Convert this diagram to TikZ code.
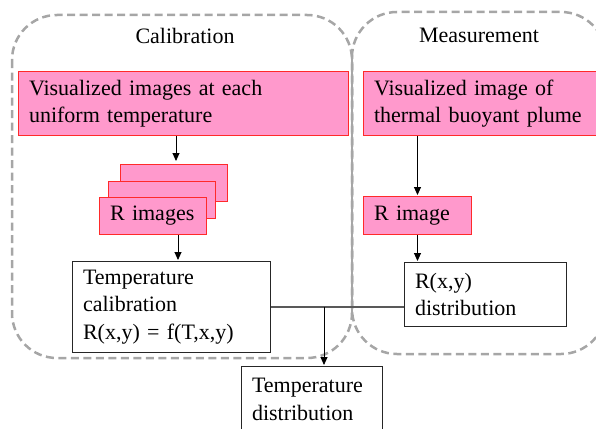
\documentclass[tikz,border=0pt]{standalone}
\usepackage{fontspec}
\setmainfont{Liberation Serif}
\usetikzlibrary{arrows.meta,calc}
\definecolor{pinkfill}{HTML}{FF99CC}
\definecolor{pinkline}{HTML}{FF2A2A}
\definecolor{dashgray}{HTML}{A6A6A6}
\definecolor{linkgray}{HTML}{595959}
\begin{document}
\begin{tikzpicture}[x=1pt,y=-1pt,
  every node/.style={font=\fontsize{22}{27.5}\selectfont, inner sep=0pt},
  base/.style={rectangle, anchor=north west, align=left, inner xsep=10.5pt, inner ysep=0pt, line width=1pt},
  pinkbox/.style={base, draw=pinkline, fill=pinkfill},
  whitebox/.style={base, draw=black!85, fill=white},
  group/.style={draw=dashgray, line width=2.5pt, dash pattern=on 8pt off 4.5pt, rounded corners=45pt},
  arr/.style={-{Triangle[length=8pt,width=7pt]}, line width=0.9pt, black},
  link/.style={line width=1.4pt, draw=linkgray},
]
\useasboundingbox (0,0) rectangle (596,428);

% groups
\draw[group] (12,15) rectangle (352,358);
\draw[group, dash phase=6pt] (352,12) rectangle (606,354);
% where the two dashed edges overlap they read as one solid line
\draw[draw=dashgray, line width=2.5pt] (352,57) -- (352,312);
\node (caltitle) at (185,35.5) {Calibration};
\node (meastitle) at (479,35.5) {Measurement};

% calibration column
\node[pinkbox, text width=309pt, minimum height=64pt] (pinkA) at (18,71) {Visualized images at each\\uniform temperature};
\node[pinkbox, minimum width=107pt, minimum height=37pt] (stackback) at (120,164) {};
\node[pinkbox, minimum width=107pt, minimum height=37pt] (stackmid) at (108,181) {};
\node[pinkbox, text width=86pt, minimum height=37pt] (Rimgs) at (99,197) {R images};
\node[whitebox, text width=177pt, minimum height=91pt] (tempcal) at (72,261) {Temperature\\calibration\\R(x,y) = f(T,x,y)};

% measurement column
\node[pinkbox, text width=212pt, minimum height=64pt] (pinkB) at (363,71) {Visualized image of\\thermal buoyant plume};
\node[pinkbox, text width=87pt, minimum height=38pt] (Rimage) at (363,196) {R image};
\node[whitebox, text width=141pt, minimum height=64pt] (Rdist) at (404,262) {R(x,y)\\distribution};

% result
\node[whitebox, text width=120pt, minimum height=66pt] (Tdist) at (241,366) {Temperature\\distribution};

% connectors
\coordinate (a1) at (176,0);
\coordinate (a2) at (178,0);
\draw[arr, shorten >=3pt] (pinkA.south -| a1) -- (stackback.north -| a1);
\draw[arr, shorten >=1pt] (Rimgs.south -| a2) -- (tempcal.north -| a2);
\draw[arr, shorten >=1pt] (pinkB.south -| Rimage.north) -- (Rimage.north);
\draw[arr, shorten >=1pt] (Rimage.south) -- (Rimage.south |- Rdist.north);
\draw[link] (tempcal.east) -- (tempcal.east -| Rdist.west);
\coordinate (j) at ($(tempcal.east)+(53,0)$);
\draw[arr, shorten >=1pt] (j) -- (j |- Tdist.north);
\end{tikzpicture}
\end{document}
